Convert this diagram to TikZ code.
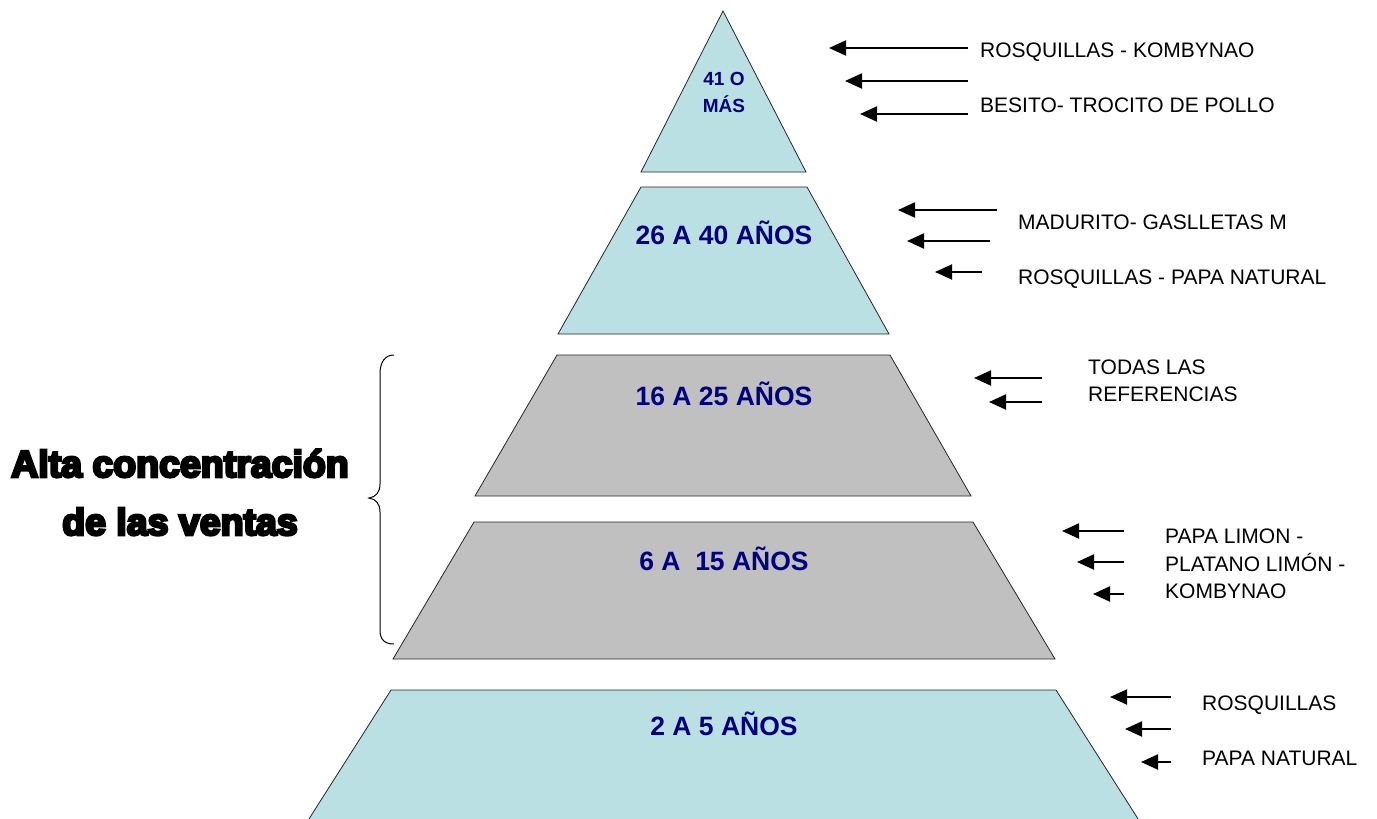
\documentclass[tikz,border=0pt]{standalone}
\usepackage{fontspec}
\setmainfont{Liberation Sans}
\newfontfamily\heavyfont{Liberation Sans}[BoldFeatures={FakeBold=7}]
\usetikzlibrary{arrows.meta}
\definecolor{lblue}{RGB}{187,224,227}
\definecolor{lgray}{RGB}{192,192,192}
\definecolor{navy}{RGB}{0,0,128}
\tikzset{
  layer/.style={draw=black!85, line width=0.8pt},
  bluelayer/.style={layer, fill=lblue},
  graylayer/.style={layer, fill=lgray},
  agelabel/.style={anchor=base, text=navy, font=\fontsize{26.5}{30}\selectfont\bfseries, inner sep=0pt},
  smallage/.style={anchor=base, text=navy, font=\fontsize{19}{22}\selectfont\bfseries, inner sep=0pt},
  item/.style={anchor=base west, font=\fontsize{21}{25}\selectfont, inner sep=0pt},
  pointer/.style={-{Triangle[length=17pt,width=15pt]}, line width=2pt},
  bigtext/.style={anchor=base, font=\heavyfont\bfseries\fontsize{37.5}{42}\selectfont, inner sep=0pt}
}
\begin{document}
\begin{tikzpicture}[x=1pt,y=-1pt]
\useasboundingbox (0,0) rectangle (1377,819);
% pyramid layers
\draw[bluelayer] (723,11) -- (806,172) -- (641,172) -- cycle;
\draw[bluelayer] (641,187) -- (807,187) -- (889,334) -- (558,334) -- cycle;
\draw[graylayer] (557,355) -- (890,355) -- (971,496) -- (475,496) -- cycle;
\draw[graylayer] (474,522) -- (973,522) -- (1055,659) -- (393,659) -- cycle;
\draw[bluelayer] (391,690) -- (1056,690) -- (1140,822) -- (307,822) -- cycle;
% age labels
\node[smallage] (l41a) at (724,85) {41 O};
\node[smallage] (l41b) at (724,112) {MÁS};
\node[agelabel] (l26) at (724,244) {26 A 40 AÑOS};
\node[agelabel] (l16) at (724,405) {16 A 25 AÑOS};
\node[agelabel] (l6) at (724,570) {6 A \ 15 AÑOS};
\node[agelabel] (l2) at (724,735) {2 A 5 AÑOS};
% group 1
\coordinate (a1s) at (968,48); \coordinate (a1e) at (829,48);
\coordinate (a2s) at (968,81); \coordinate (a2e) at (845,81);
\coordinate (a3s) at (968,114); \coordinate (a3e) at (860,114);
\draw[pointer] (a1s) -- (a1e);
\draw[pointer] (a2s) -- (a2e);
\draw[pointer] (a3s) -- (a3e);
\node[item] (t1) at (980,57.5) {ROSQUILLAS - KOMBYNAO};
\node[item] (t2) at (980,112.5) {BESITO- TROCITO DE POLLO};
% group 2
\coordinate (b1s) at (997,210); \coordinate (b1e) at (898,210);
\coordinate (b2s) at (990,241); \coordinate (b2e) at (907,241);
\coordinate (b3s) at (982,272); \coordinate (b3e) at (935,272);
\draw[pointer] (b1s) -- (b1e);
\draw[pointer] (b2s) -- (b2e);
\draw[pointer] (b3s) -- (b3e);
\node[item] (t3) at (1018,229.5) {MADURITO- GASLLETAS M};
\node[item] (t4) at (1018,284.5) {ROSQUILLAS - PAPA NATURAL};
% group 3
\coordinate (c1s) at (1042,378); \coordinate (c1e) at (974,378);
\coordinate (c2s) at (1042,402); \coordinate (c2e) at (989,402);
\draw[pointer] (c1s) -- (c1e);
\draw[pointer] (c2s) -- (c2e);
\node[item] (t5) at (1088,374.5) {TODAS LAS};
\node[item] (t6) at (1088,401.5) {REFERENCIAS};
% group 4
\coordinate (d1s) at (1124,531); \coordinate (d1e) at (1062,531);
\coordinate (d2s) at (1124,562); \coordinate (d2e) at (1077,562);
\coordinate (d3s) at (1124,594); \coordinate (d3e) at (1093,594);
\draw[pointer] (d1s) -- (d1e);
\draw[pointer] (d2s) -- (d2e);
\draw[pointer] (d3s) -- (d3e);
\node[item] (t7) at (1165,543.5) {PAPA LIMON -};
\node[item] (t8) at (1165,571.5) {PLATANO LIMÓN -};
\node[item] (t9) at (1165,598.5) {KOMBYNAO};
% group 5
\coordinate (e1s) at (1171,697); \coordinate (e1e) at (1110,697);
\coordinate (e2s) at (1171,729); \coordinate (e2e) at (1125,729);
\coordinate (e3s) at (1171,762); \coordinate (e3e) at (1141,762);
\draw[pointer] (e1s) -- (e1e);
\draw[pointer] (e2s) -- (e2e);
\draw[pointer] (e3s) -- (e3e);
\node[item] (t10) at (1202,710.5) {ROSQUILLAS};
\node[item] (t11) at (1202,765.5) {PAPA NATURAL};
% brace
\draw[line width=1pt] (394,355) .. controls (385,355) and (380,362) .. (380,374) -- (380,484)
  .. controls (380,492) and (376,497) .. (369,498)
  .. controls (376,499) and (380,504) .. (380,512) -- (380,630)
  .. controls (380,640) and (385,644) .. (394,644);
% left text
\node[bigtext] (alta1) at (180,477) {Alta concentración};
\node[bigtext] (alta2) at (180,535) {de las ventas};
\end{tikzpicture}
\end{document}
